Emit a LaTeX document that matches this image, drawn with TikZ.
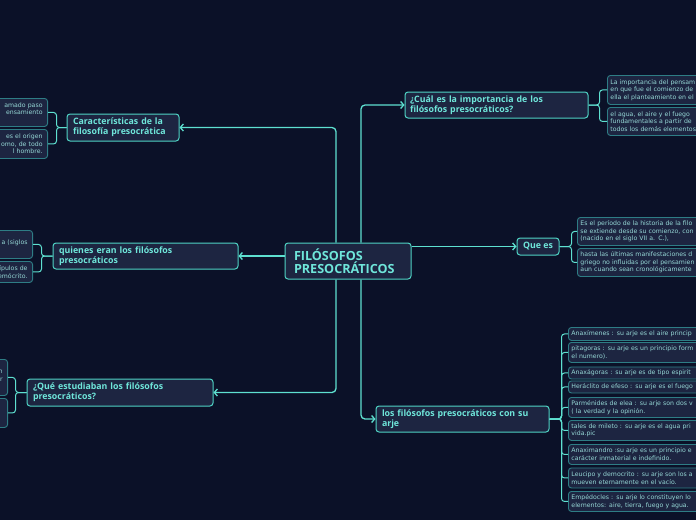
\documentclass[tikz,border=0pt]{standalone}
\usepackage{fontspec}
\setmainfont{Open Sans}
\newfontfamily\childfont{DejaVu Sans}
\usetikzlibrary{arrows.meta}
\definecolor{bg}{HTML}{0B1128}
\definecolor{nodefill}{HTML}{1D2541}
\definecolor{mainborder}{HTML}{4FD3C4}
\definecolor{childborder}{HTML}{2E7D85}
\definecolor{maintext}{HTML}{6FE6DA}
\definecolor{childtext}{HTML}{96D8D6}
\definecolor{conncol}{HTML}{5EE0D0}
\begin{document}
\begin{tikzpicture}[x=1pt,y=-1pt,
  mainbox/.style={draw=mainborder, fill=nodefill, rounded corners=3pt, line width=1pt,
    text=maintext, font=\fontsize{8.8}{9.9}\selectfont\bfseries, align=left,
    inner xsep=6pt, inner ysep=0pt},
  rootbox/.style={mainbox, font=\fontsize{12.6}{13.4}\selectfont\bfseries, inner xsep=9pt},
  childbox/.style={draw=childborder, fill=nodefill, rounded corners=3pt, line width=0.9pt,
    text=childtext, font=\childfont\fontsize{6.2}{7.6}\selectfont, inner xsep=3pt, inner ysep=0pt},
  lchild/.style={childbox, anchor=north east, align=right, text width=90pt, inner xsep=5pt},
  rchild/.style={childbox, anchor=north west, align=left, text width=170pt},
  conn/.style={draw=conncol, line width=1.3pt, rounded corners=4pt,
    -{Straight Barb[length=3pt,width=7pt]}},
  br/.style={draw=conncol, line width=1pt, rounded corners=3pt}
]
\fill[bg] (0,0) rectangle (696,520);
\useasboundingbox (0,0) rectangle (696,520);
\clip (0,0) rectangle (696,520);

% central column positions
\coordinate (lx) at (336,0);
\coordinate (rx) at (361,0);

% main nodes
\node[rootbox, text width=108pt, minimum height=36pt] (root) at (348,261) {FILÓSOFOS\\PRESOCRÁTICOS};
\node[mainbox, text width=100pt, minimum height=27pt] (car) at (123,127.5) {Características de la\\filosofía presocrática};
\node[mainbox, text width=173pt, minimum height=26pt] (qui) at (145.5,256) {quienes eran los filósofos\\presocráticos};
\node[mainbox, text width=174pt, minimum height=27pt] (que) at (120,392.5) {¿Qué estudiaban los filósofos\\presocráticos?};
\node[mainbox, text width=173pt, minimum height=26pt, inner xsep=5pt] (cual) at (496.5,105) {¿Cuál es la importancia de los\\filósofos presocráticos?};
\node[mainbox, minimum width=42pt, minimum height=17pt, inner xsep=3pt, align=center] (qes) at (538,246.5) {Que es};
\node[mainbox, text width=161pt, minimum height=26pt] (los) at (462.5,419) {los filósofos presocráticos con su\\arje};

% connectors from root
\draw[conn] (root.north -| lx) |- (car.east);
\draw[conn] (root.south -| lx) |- (que.east);
\draw[conn] (qui.east -| root.west) -- (qui.east);
\draw[conn] (root.north -| rx) |- (cual.west);
\draw[conn] (qes.west -| root.east) -- (qes.west);
\draw[conn] (root.south -| rx) |- (los.west);

% left children
\node[lchild, minimum height=28pt] (car1) at (48,98) {amado paso\\ensamiento\\\mbox{}};
\node[lchild, minimum height=29pt] (car2) at (48,129) {es el origen\\omo, de todo\\l hombre.};
\node[lchild, minimum height=28pt] (qui1) at (33,230) {\mbox{}\\a (siglos\\\mbox{}};
\node[lchild, minimum height=21pt] (qui2) at (33,261) {ípulos de\\emócrito.};
\node[lchild, minimum height=36pt] (que1) at (8,359) {\mbox{}\\n\\r\\\mbox{}};
\node[lchild, minimum height=29pt] (que2) at (8,398) {\mbox{}};

\draw[br] (car.west) -- ++(-10,0) |- (car1.east);
\draw[br] (car.west) -- ++(-10,0) |- (car2.east);
\draw[br] (qui.west) -- ++(-11,0) |- (qui1.east);
\draw[br] (qui.west) -- ++(-11,0) |- (qui2.east);
\draw[br] (que.west) -- ++(-11,0) |- (que1.east);
\draw[br] (que.west) -- ++(-11,0) |- (que2.east);

% right children: Cual
\node[rchild, minimum height=29pt] (cu1) at (607,75) {La importancia del pensam\\en que fue el comienzo de\\ella el planteamiento en el};
\node[rchild, minimum height=28pt] (cu2) at (607,107) {el agua, el aire y el fuego\\fundamentales a partir de\\todos los demás elementos};
\draw[br] (cual.east) -- ++(11,0) |- (cu1.west);
\draw[br] (cual.east) -- ++(11,0) |- (cu2.west);

% Que es children
\node[rchild, minimum height=28pt] (qe1) at (577,217) {Es el período de la historia de la filo\\se extiende desde su comienzo, con\\(nacido en el siglo VII a. C.),};
\node[rchild, minimum height=28pt] (qe2) at (577,248) {hasta las últimas manifestaciones d\\griego no influidas por el pensamien\\aun cuando sean cronológicamente};
\draw[br] (qes.east) -- ++(12,0) |- (qe1.west);
\draw[br] (qes.east) -- ++(12,0) |- (qe2.west);

% los filosofos children
\node[rchild, minimum height=13pt] (l1) at (568,327) {Anaxímenes : su arje es el aire princip};
\node[rchild, minimum height=20pt] (l2) at (568,342) {pitagoras : su arje es un principio form\\el numero).};
\node[rchild, minimum height=12pt] (l3) at (568,366.5) {Anaxágoras : su arje es de tipo espirit};
\node[rchild, minimum height=12pt] (l4) at (568,380.5) {Heráclito de efeso : su arje es el fuego};
\node[rchild, minimum height=20pt] (l5) at (568,397) {Parménides de elea : su arje son dos v\\( la verdad y la opinión.};
\node[rchild, minimum height=20pt] (l6) at (568,420) {tales de mileto : su arje es el agua pri\\vida.pic};
\node[rchild, minimum height=20pt] (l7) at (568,444) {Anaximandro :su arje es un principio e\\carácter inmaterial e indefinido.};
\node[rchild, minimum height=20pt] (l8) at (568,467.5) {Leucipo y democrito : su arje son los a\\mueven eternamente en el vacío.};
\node[rchild, minimum height=20pt] (l9) at (568,491) {Empédocles : su arje lo constituyen lo\\elementos: aire, tierra, fuego y agua.};
\foreach \c in {l1,l2,l3,l4,l5,l6,l7,l8,l9}
  \draw[br] (los.east) -- ++(12,0) |- (\c.west);
\end{tikzpicture}
\end{document}
